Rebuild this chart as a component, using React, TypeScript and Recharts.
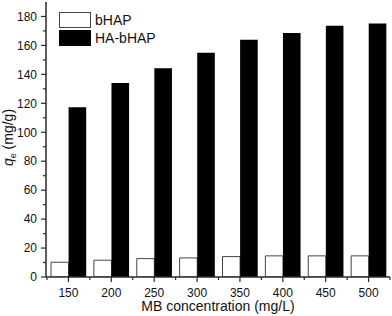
import React from 'react';
import { BarChart, Bar, XAxis, YAxis, Legend, Label } from 'recharts';

const categories = ['150', '200', '250', '300', '350', '400', '450', '500'];
const bHAP = [10.2, 11.6, 12.7, 13.2, 14.1, 14.6, 14.6, 14.6];
const haBHAP = [117.3, 134.1, 144.2, 155.0, 163.9, 168.5, 173.6, 175.2];
const yMajorTicks = [0, 20, 40, 60, 80, 100, 120, 140, 160, 180];
const yMinorTicks = [10, 30, 50, 70, 90, 110, 130, 150, 170];
const seriesNames = ['bHAP', 'HA-bHAP'];

const data = categories.map((c, i) => ({ conc: c, bHAP: bHAP[i], haBHAP: haBHAP[i] }));
const yTicks = [...yMajorTicks, ...yMinorTicks].sort((a, b) => a - b);

const FONT = '"Liberation Sans", Arial, Helvetica, sans-serif';
const AXIS = '#2a2a2a';
const Y_TICK_SIZE = 5;
const Y_TICK_MARGIN = 4;
const X_TICK_SIZE = 5;
const X_TICK_MARGIN = 6;

const YTick = (props: any) => {
  const { x, y, payload } = props;
  const axisX = x + Y_TICK_SIZE + Y_TICK_MARGIN;
  const major = yMajorTicks.includes(payload.value);
  return (
    <g>
      <line x1={axisX} x2={axisX - (major ? Y_TICK_SIZE : 3)} y1={y} y2={y} stroke={AXIS} strokeWidth={1.2} />
      {major && (
        <text x={x} y={y} dy="0.355em" textAnchor="end" fontSize={12} fontFamily={FONT} fill="#111">
          {payload.value}
        </text>
      )}
    </g>
  );
};

const XTick = (props: any) => {
  const { x, y, payload, index, width } = props;
  const axisY = y - X_TICK_SIZE - X_TICK_MARGIN;
  const band = (typeof width === 'number' ? width - 1 : 343) / categories.length;
  const half = band / 2;
  return (
    <g>
      <line x1={x} x2={x} y1={axisY} y2={axisY + X_TICK_SIZE} stroke={AXIS} strokeWidth={1.2} />
      <line x1={x - half} x2={x - half} y1={axisY} y2={axisY + 3} stroke={AXIS} strokeWidth={1.2} />
      {index === categories.length - 1 && (
        <line x1={x + half} x2={x + half} y1={axisY} y2={axisY + 3} stroke={AXIS} strokeWidth={1.2} />
      )}
      <text x={x} y={y} dy="0.71em" textAnchor="middle" fontSize={12} fontFamily={FONT} fill="#111">
        {payload.value}
      </text>
    </g>
  );
};

const YLabel = (props: any) => {
  const vb = props.viewBox || { y: 2, height: 275 };
  const cy = vb.y + vb.height / 2 - 2;
  return (
    <text
      transform={`translate(13, ${cy}) rotate(-90)`}
      textAnchor="middle"
      fontSize={14}
      fontFamily={FONT}
      fill="#111"
    >
      <tspan fontStyle="italic">q</tspan>
      <tspan fontSize={9} dy={3}>e</tspan>
      <tspan dy={-3}> (mg/g)</tspan>
    </text>
  );
};

const LegendContent = () => (
  <div style={{ fontFamily: FONT, fontSize: 14, lineHeight: '16px', color: '#111' }}>
    <div style={{ display: 'flex', alignItems: 'center', height: 16, marginBottom: 2 }}>
      <span style={{ display: 'inline-block', width: 32, height: 16, boxSizing: 'border-box', border: '1px solid #444', background: '#fff' }} />
      <span style={{ marginLeft: 4 }}>{seriesNames[0]}</span>
    </div>
    <div style={{ display: 'flex', alignItems: 'center', height: 16 }}>
      <span style={{ display: 'inline-block', width: 32, height: 16, background: '#000' }} />
      <span style={{ marginLeft: 4 }}>{seriesNames[1]}</span>
    </div>
  </div>
);

export default function App() {
  return (
    <div style={{ position: 'absolute', left: 0, top: 0, background: '#fff' }}>
      <BarChart
        width={392}
        height={316}
        data={data}
        margin={{ top: 2, right: 2, left: 0, bottom: 0 }}
        barGap={0}
        barSize={17.6}
      >
        <XAxis
          dataKey="conc"
          height={39}
          padding={{ left: 1, right: 0 }}
          interval={0}
          tickSize={X_TICK_SIZE}
          tickMargin={X_TICK_MARGIN}
          tickLine={false}
          tick={<XTick />}
          axisLine={{ stroke: AXIS, strokeWidth: 1.5 }}
        >
          <Label
            value="MB concentration (mg/L)"
            position="insideBottom"
            offset={5}
            fontSize={14}
            fontFamily={FONT}
            fill="#111"
          />
        </XAxis>
        <XAxis
          xAxisId="top"
          dataKey="conc"
          orientation="top"
          height={0}
          tick={false}
          tickLine={false}
          axisLine={{ stroke: AXIS, strokeWidth: 1.5 }}
        />
        <YAxis
          width={46}
          type="number"
          domain={[0, 190]}
          ticks={yTicks}
          interval={0}
          allowDataOverflow
          tickSize={Y_TICK_SIZE}
          tickMargin={Y_TICK_MARGIN}
          tickLine={false}
          tick={<YTick />}
          axisLine={{ stroke: AXIS, strokeWidth: 1.5 }}
          label={<YLabel />}
        />
        <YAxis
          yAxisId="right"
          orientation="right"
          width={0}
          type="number"
          domain={[0, 190]}
          tick={false}
          tickLine={false}
          axisLine={{ stroke: AXIS, strokeWidth: 2 }}
        />
        <Legend
          layout="vertical"
          align="center"
          verticalAlign="middle"
          wrapperStyle={{ top: 12, left: 59, width: 'auto', height: 'auto' }}
          content={<LegendContent />}
        />
        <Bar dataKey="bHAP" name={seriesNames[0]} fill="#ffffff" stroke="#444" strokeWidth={1} isAnimationActive={false} />
        <Bar dataKey="haBHAP" name={seriesNames[1]} fill="#000000" isAnimationActive={false} />
      </BarChart>
    </div>
  );
}
